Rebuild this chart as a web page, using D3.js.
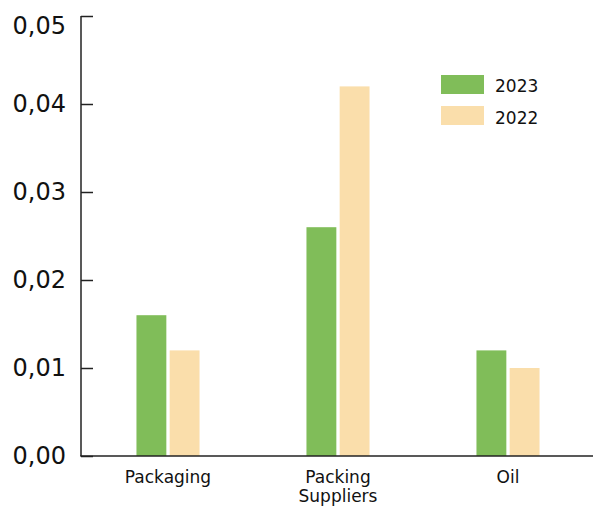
<!DOCTYPE html>
<html><head><meta charset="utf-8">
<script src="https://cdn.jsdelivr.net/npm/d3@7"></script>
<style>html,body{margin:0;padding:0;background:#fff;overflow:hidden}svg{display:block}</style>
</head><body>
<svg id="c" width="593" height="506"></svg>
<script>
const categories = ["Packaging", "Packing\nSuppliers", "Oil"];
const seriesNames = ["2023", "2022"];
const values2023 = [0.016, 0.026, 0.012];
const values2022 = [0.012, 0.042, 0.010];
const yTicks = [0, 0.01, 0.02, 0.03, 0.04, 0.05];
const colors = ["#80bd59", "#fadeab"];

const svg = d3.select("#c");
const font = "'DejaVu Sans', sans-serif";
const mLeft = 81, mTop = 16, mBottom = 456, mRight = 593;

const y = d3.scaleLinear().domain([0, 0.05]).range([mBottom, mTop]);
const x0 = d3.scaleBand().domain(categories).range([83, 593]).paddingInner(0.629).paddingOuter(0.3145);
const x1 = d3.scaleBand().domain(seriesNames).range([0, x0.bandwidth()]).paddingInner(0.1);

const data = categories.map((c, i) => ({c, vals: [values2023[i], values2022[i]]}));

const g = svg.append("g");
g.selectAll("g.grp").data(data).enter().append("g")
  .attr("transform", d => `translate(${x0(d.c)},0)`)
  .selectAll("rect").data(d => d.vals.map((v, j) => ({v, s: seriesNames[j], j})))
  .enter().append("rect")
  .attr("x", d => x1(d.s)).attr("width", x1.bandwidth())
  .attr("y", d => y(d.v)).attr("height", d => y(0) - y(d.v))
  .attr("fill", d => colors[d.j]);

// y axis
const yAxis = d3.axisRight(y).tickValues(yTicks).tickSize(12).tickFormat("");
const ya = svg.append("g").attr("transform", `translate(${mLeft},0)`).call(yAxis);
ya.select(".domain").attr("stroke", "#222").attr("stroke-width", 1.5).attr("d", `M0,${mTop}V${mBottom}`);
ya.selectAll(".tick line").attr("stroke", "#222").attr("stroke-width", 1.5);

svg.append("g").selectAll("text").data(yTicks).enter().append("text")
  .attr("x", 66).attr("y", (d, i) => y(d) + (i === yTicks.length - 1 ? 10 : 0))
  .attr("dy", "0.35em").attr("text-anchor", "end")
  .attr("font-family", font).attr("font-size", 24).attr("fill", "#111")
  .text(d => d3.format(".2f")(d).replace(".", ","));

// x axis
svg.append("line").attr("x1", mLeft - 0.75).attr("x2", mRight).attr("y1", mBottom).attr("y2", mBottom)
  .attr("stroke", "#222").attr("stroke-width", 1.5);

const xl = svg.append("g").selectAll("text").data(categories).enter().append("text")
  .attr("text-anchor", "middle").attr("font-family", font).attr("font-size", 17).attr("fill", "#111")
  .attr("x", d => x0(d) + x0.bandwidth() / 2).attr("y", 483);
xl.each(function(d) {
  const lines = d.split("\n");
  d3.select(this).selectAll("tspan").data(lines).enter().append("tspan")
    .attr("x", x0(d) + x0.bandwidth() / 2).attr("dy", (l, i) => i === 0 ? 0 : 19).text(l => l);
});

// legend
const leg = svg.append("g");
seriesNames.forEach((s, i) => {
  leg.append("rect").attr("x", 441).attr("y", 75 + i * 31).attr("width", 43).attr("height", 19).attr("fill", colors[i]);
  leg.append("text").attr("x", 495).attr("y", 92 + i * 32).attr("font-family", font).attr("font-size", 17)
    .attr("fill", "#111").text(s);
});
</script>
</body></html>
